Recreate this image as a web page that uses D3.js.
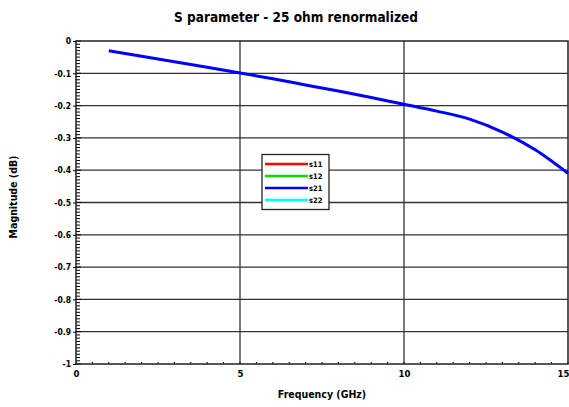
<!DOCTYPE html>
<html><head><meta charset="utf-8">
<script src="https://cdn.jsdelivr.net/npm/d3@7"></script>
<style>
body{margin:0;background:#fff;}
text{font-family:"DejaVu Sans Condensed","Liberation Sans Narrow",sans-serif;font-stretch:condensed;font-weight:bold;fill:#000;}
</style></head>
<body><svg id="c" width="569" height="407"></svg>
<script>
const freq = [1,2,3,4,5,6,7,8,9,10,11,12,13,14,15];
const s21 = [-0.030,-0.047,-0.064,-0.081,-0.099,-0.117,-0.136,-0.155,-0.175,-0.196,-0.217,-0.242,-0.282,-0.337,-0.410];
const xTicks = [0,5,10,15];
const yTicks = [0,-0.1,-0.2,-0.3,-0.4,-0.5,-0.6,-0.7,-0.8,-0.9,-1];
const yTickLabels = ["0","-0.1","-0.2","-0.3","-0.4","-0.5","-0.6","-0.7","-0.8","-0.9","-1"];
const legendNames = ["s11","s12","s21","s22"];
const legendColors = ["#ff0000","#00e000","#0000ff","#00ffff"];

const svg = d3.select("#c");
const L=76,R=568,T=41,B=364;
const x = d3.scaleLinear().domain([0,15]).range([L,R]);
const y = d3.scaleLinear().domain([-1,0]).range([B,T]);

// grid
svg.append("g").selectAll("line").data(yTicks.slice(1,-1)).join("line")
  .attr("x1",L).attr("x2",R).attr("y1",d=>y(d)).attr("y2",d=>y(d))
  .attr("stroke","#333").attr("stroke-width",1.3);
svg.append("g").selectAll("line").data(xTicks.slice(1,-1)).join("line")
  .attr("y1",T).attr("y2",B).attr("x1",d=>x(d)).attr("x2",d=>x(d))
  .attr("stroke","#333").attr("stroke-width",1.3);

// minor ticks
const yMinor = d3.range(0,101).map(i=>-i/100);
svg.append("g").selectAll("line").data(yMinor).join("line")
  .attr("x1",L).attr("x2",d=>L+(Math.abs(Math.round(d*100))%10===0?5:4)).attr("y1",d=>y(d)).attr("y2",d=>y(d))
  .attr("stroke","#000").attr("stroke-width",1);
const xMinor = d3.range(0,31).map(i=>i/2);
svg.append("g").selectAll("line").data(xMinor).join("line")
  .attr("y1",B).attr("y2",B-2).attr("x1",d=>x(d)).attr("x2",d=>x(d))
  .attr("stroke","#000").attr("stroke-width",1);

// border
svg.append("rect").attr("x",L).attr("y",T).attr("width",R-L).attr("height",B-T)
  .attr("fill","none").attr("stroke","#222").attr("stroke-width",1.5);

// axes labels
const yAxis = d3.axisLeft(y).tickValues(yTicks).tickSize(3).tickFormat((d,i)=>yTickLabels[i]);
const gy = svg.append("g").attr("transform",`translate(${L},0)`).call(yAxis);
gy.select(".domain").remove();
gy.selectAll("line").attr("stroke","#000");
gy.selectAll("text").attr("font-size",8.5).attr("font-family",null).attr("x",-5);

const xAxis = d3.axisBottom(x).tickValues(xTicks).tickSize(0).tickFormat(d3.format("d"));
const gx = svg.append("g").attr("transform",`translate(0,${B})`).call(xAxis);
gx.select(".domain").remove();
gx.selectAll("text").attr("font-size",9.5).attr("font-family",null).attr("dy","0.9em").attr("y",4)
  .attr("text-anchor",d=>d===15?"end":"middle").attr("dx",d=>d===15?"1":"0");

// line
const line = d3.line().x((d,i)=>x(freq[i])).y(d=>y(d)).curve(d3.curveMonotoneX);
svg.append("path").datum(s21).attr("d",line).attr("fill","none")
  .attr("stroke","#0000ff").attr("stroke-width",3);

// title & axis titles
svg.append("text").attr("x",296).attr("y",22).attr("text-anchor","middle").attr("font-size",13.5)
  .text("S parameter - 25 ohm renormalized");
svg.append("text").attr("x",322).attr("y",398).attr("text-anchor","middle").attr("font-size",10.5)
  .text("Frequency (GHz)");
svg.append("text").attr("transform","translate(17,197) rotate(-90)").attr("text-anchor","middle").attr("font-size",10.5)
  .text("Magnitude (dB)");

// legend
const lg = svg.append("g");
lg.append("rect").attr("x",262).attr("y",154.5).attr("width",67).attr("height",55)
  .attr("fill","#fff").attr("stroke","#222").attr("stroke-width",1.3);
const ly = d3.scalePoint().domain(legendNames).range([164,200]);
lg.selectAll("line").data(legendNames).join("line")
  .attr("x1",265).attr("x2",308).attr("y1",d=>ly(d)).attr("y2",d=>ly(d))
  .attr("stroke",(d,i)=>legendColors[i]).attr("stroke-width",2.5);
lg.selectAll("text").data(legendNames).join("text")
  .attr("x",309).attr("y",d=>ly(d)+3).attr("font-size",7.5)
  .text(d=>d);
</script></body></html>
